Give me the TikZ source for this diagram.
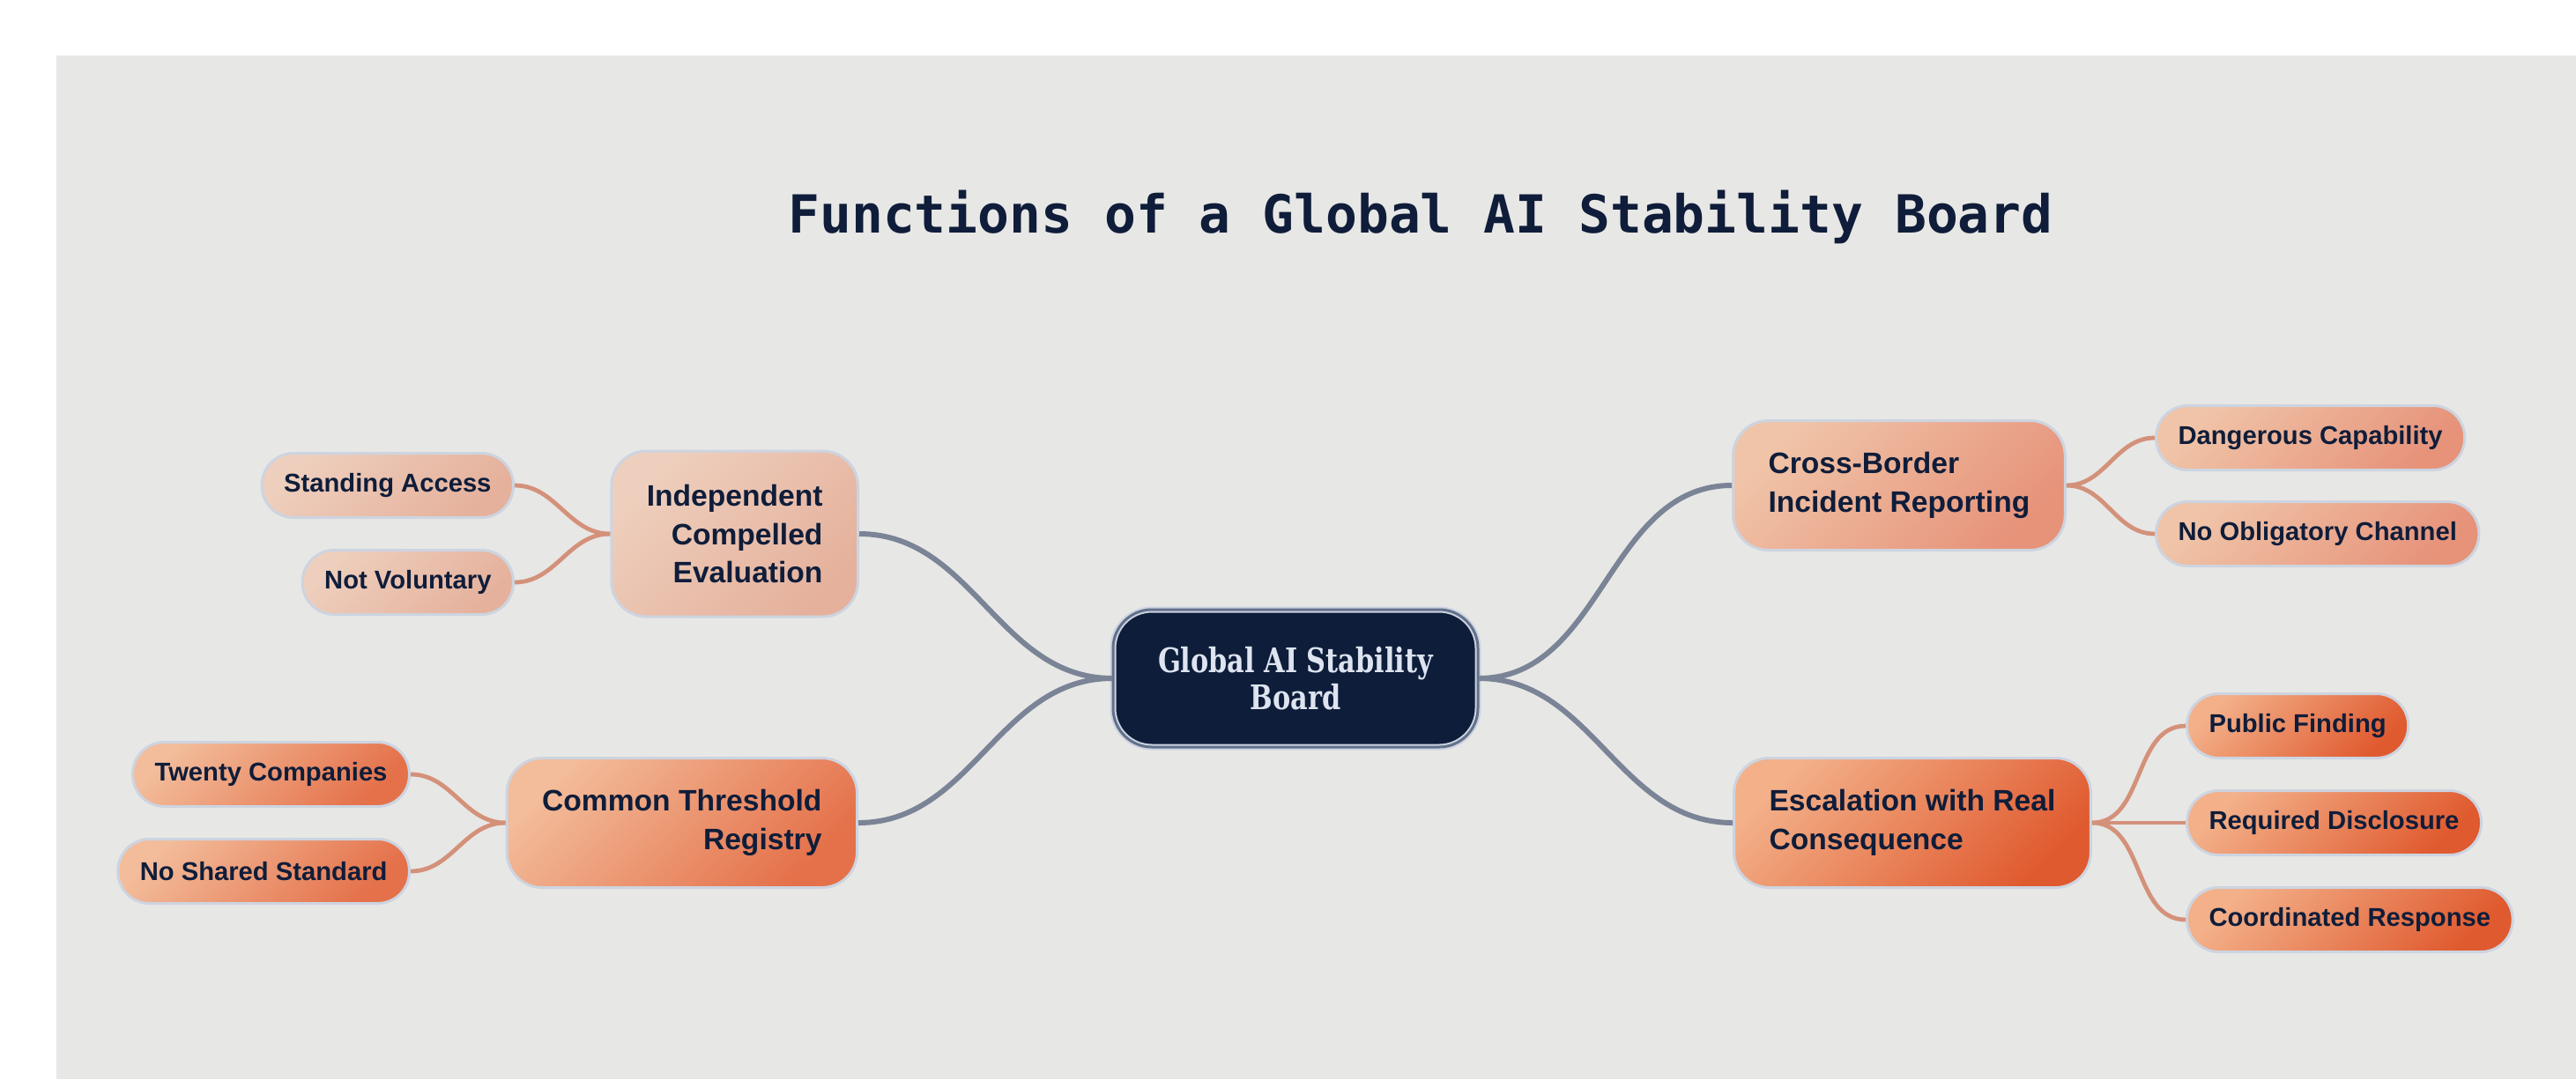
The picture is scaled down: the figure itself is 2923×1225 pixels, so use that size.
\documentclass[tikz,border=0pt]{standalone}
\usepackage{fontspec}
\setmainfont{Liberation Sans}
\newfontfamily\titlefont{DejaVu Sans Mono}
\newfontfamily\slabfont{DejaVu Serif}[FakeStretch=0.79]
\usetikzlibrary{positioning}

\definecolor{ink}{HTML}{0F1D3A}
\definecolor{canvas}{HTML}{E7E7E5}
\definecolor{rootfill}{HTML}{0D1D3A}
\definecolor{rootline}{HTML}{62718C}
\definecolor{roottext}{HTML}{DDE4F0}
\definecolor{halo}{HTML}{CDD4E0}
\definecolor{trunk}{HTML}{7A8496}
\definecolor{twig}{HTML}{D4917A}
\definecolor{paleA}{HTML}{EECFBD}
\definecolor{paleB}{HTML}{E5B19C}
\definecolor{peachA}{HTML}{F0C4A8}
\definecolor{peachB}{HTML}{E6937A}
\definecolor{amberA}{HTML}{F3BC9A}
\definecolor{amberB}{HTML}{E4714A}
\definecolor{flameA}{HTML}{F3B089}
\definecolor{flameB}{HTML}{E05A2F}

\begin{document}
\begin{tikzpicture}
    [
        x = 0.25pt, y = -0.25pt,
        tint/.style 2 args = {top color = #1, bottom color = #2, shading angle = 45},
        root/.style = {rounded corners = 11pt, fill = rootfill, draw = halo, double = rootline,
                line width = 0.5pt, double distance = 0.75pt, minimum width = 103.5pt,
                minimum height = 39pt, align = center, text = roottext,
                font = \slabfont\bfseries\fontsize{9.6pt}{10.5pt}\selectfont},
        branch/.style = {rounded corners = 10pt, draw = halo, line width = 0.75pt,
                inner xsep = 10pt, minimum height = 36.75pt, text = ink,
                font = \bfseries\fontsize{8.4pt}{10.9pt}\selectfont},
        leaf/.style = {rounded corners = 9pt, draw = halo, line width = 0.75pt,
                inner xsep = 6.25pt, minimum height = 18.25pt, text = ink,
                font = \bfseries\fontsize{7.3pt}{8.8pt}\selectfont},
        trunkline/.style = {draw = trunk, line width = 1.5pt},
        twigline/.style = {draw = twig, line width = 1.2pt},
    ]

    \useasboundingbox (0,0) rectangle (2923,1225);
    \fill[canvas] (64,63) rectangle (2923,1225);

    \node[anchor = base, text = ink, font = \titlefont\bfseries\fontsize{14.9pt}{18pt}\selectfont]
        (title) at (1612,264) {Functions of a Global AI Stability Board};

    \node[root] (root) at (1470,770) {Global AI Stability\\Board};

    \node[branch, tint = {paleA}{paleB}, anchor = east, align = right, minimum height = 47pt]
        (indep) at (975,606) {Independent\\Compelled\\Evaluation};
    \node[branch, tint = {amberA}{amberB}, anchor = east, align = right]
        (common) at (974,934) {Common Threshold\\Registry};
    \node[branch, tint = {peachA}{peachB}, anchor = west, align = left]
        (cross) at (1965,551) {Cross-Border\\Incident Reporting};
    \node[branch, tint = {flameA}{flameB}, anchor = west, align = left]
        (escal) at (1966,934) {Escalation with Real\\Consequence};

    \node[leaf, tint = {paleA}{paleB}, anchor = east] (standing) at (584,551) {Standing Access};
    \node[leaf, tint = {paleA}{paleB}, anchor = east] (notvol) at (584,661) {Not Voluntary};
    \node[leaf, tint = {amberA}{amberB}, anchor = east] (twenty) at (466,879) {Twenty Companies};
    \node[leaf, tint = {amberA}{amberB}, anchor = east] (noshared) at (466,989) {No Shared Standard};
    \node[leaf, tint = {peachA}{peachB}, anchor = west] (danger) at (2445,497) {Dangerous Capability};
    \node[leaf, tint = {peachA}{peachB}, anchor = west] (nochannel) at (2445,606) {No Obligatory Channel};
    \node[leaf, tint = {flameA}{flameB}, anchor = west] (finding) at (2480,824) {Public Finding};
    \node[leaf, tint = {flameA}{flameB}, anchor = west] (disclosure) at (2480,934) {Required Disclosure};
    \node[leaf, tint = {flameA}{flameB}, anchor = west] (response) at (2480,1044) {Coordinated Response};

    \foreach \b in {indep,common}{
            \draw[trunkline] (root.west) to[out = 180, in = 0] (\b.east);
        }
    \foreach \b in {cross,escal}{
            \draw[trunkline] (root.east) to[out = 0, in = 180] (\b.west);
        }
    \foreach \p/\c in {indep/standing, indep/notvol, common/twenty, common/noshared}{
            \draw[twigline] (\p.west) to[out = 180, in = 0] (\c.east);
        }
    \foreach \p/\c in {cross/danger, cross/nochannel, escal/finding, escal/disclosure, escal/response}{
            \draw[twigline] (\p.east) to[out = 0, in = 180] (\c.west);
        }

\end{tikzpicture}
\end{document}
